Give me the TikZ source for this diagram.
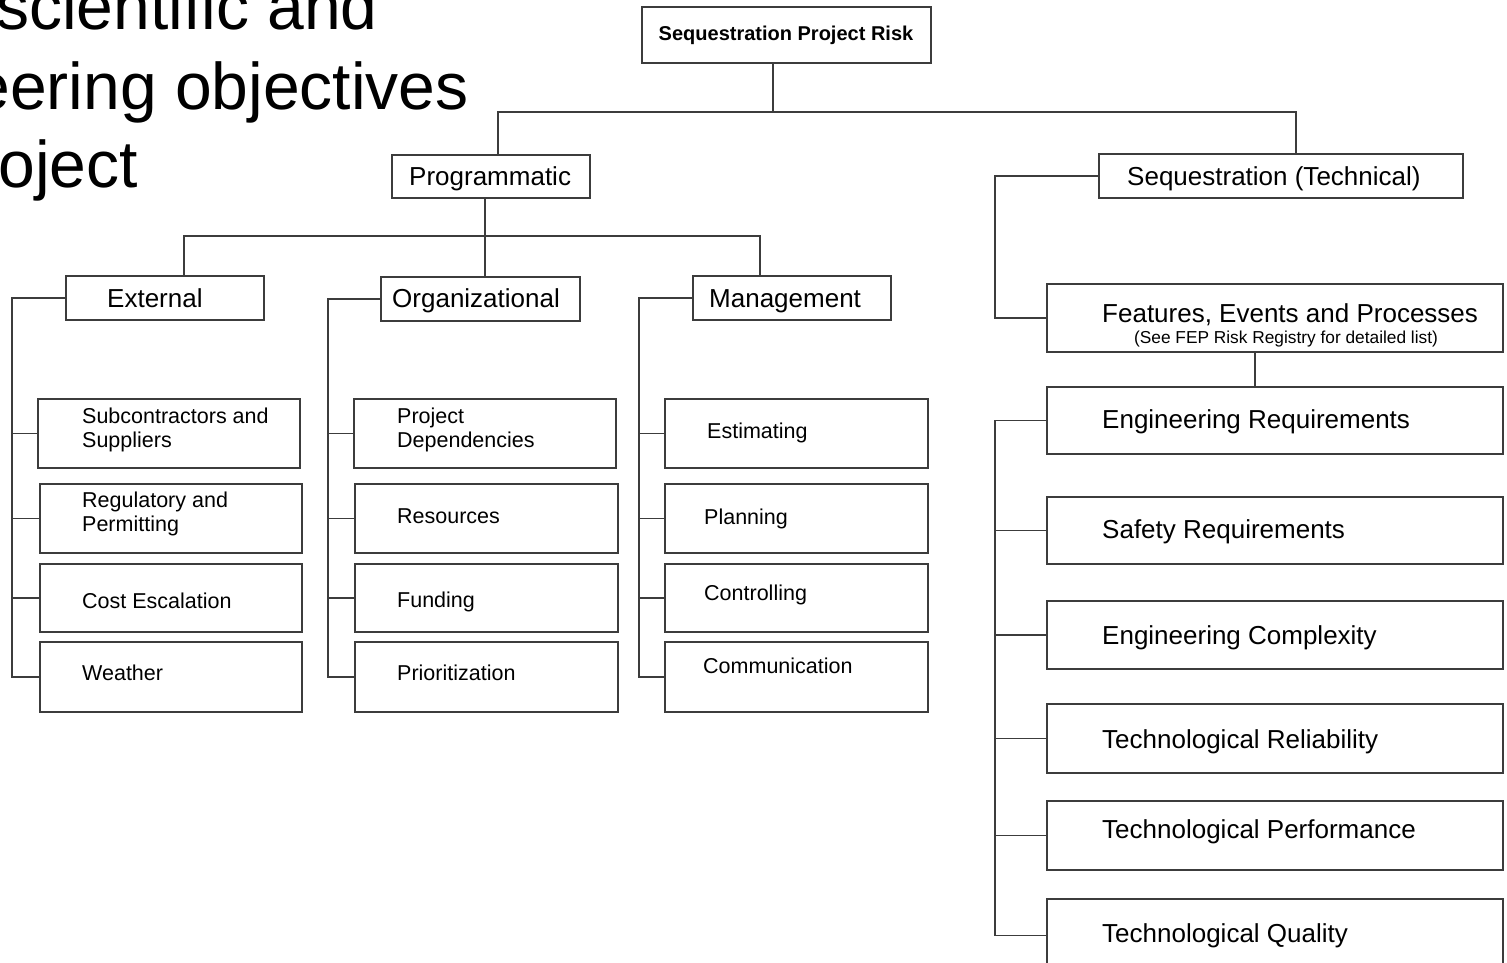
\documentclass[tikz,border=0pt]{standalone}
\usepackage{fontspec}
\setmainfont{Liberation Sans}
\definecolor{linegray}{HTML}{3C3C3C}
% box from corner (x1,y1) to corner (x2,y2), in pixel-like units
\newcommand{\rbox}[5]{\node[riskbox, minimum width={(#4-#2)*1pt}, minimum height={(#5-#3)*1pt}] (#1) at ({(#2+#4)/2},{(#3+#5)/2}) {};}
\begin{document}
\begin{tikzpicture}[x=1pt,y=-1pt,
  riskbox/.style={draw=linegray, line width=1.8pt, fill=white, inner sep=0pt},
  conn/.style={draw=linegray, line width=1.8pt},
  titletext/.style={font=\fontsize{66}{78}\selectfont, inner sep=0pt, anchor=base east},
  big/.style={font=\fontsize{26}{30}\selectfont, inner sep=0pt, anchor=west, text height=18.6pt, text depth=0pt},
  small/.style={font=\fontsize{21.5}{24}\selectfont, inner sep=0pt, anchor=west, text height=15.4pt, text depth=0pt},
  twoline/.style={font=\fontsize{21.5}{24}\selectfont, inner sep=0pt, anchor=west, align=left},
  note/.style={font=\fontsize{17.3}{20}\selectfont, inner sep=0pt, text height=12.4pt, text depth=0pt}]
\useasboundingbox (0,0) rectangle (1507,963);
\clip (0,0) rectangle (1507,963);
\fill[white] (0,0) rectangle (1507,963);

% slide title fragment
\node[titletext] (t1) at (378,30) {scientific and};
\node[titletext] (t2) at (469,110) {eering objectives};
\node[titletext] (t3) at (138,187) {oject};

% boxes
\rbox{root}{642}{7}{931}{63}
\rbox{prog}{392}{155}{590}{198}
\rbox{seq}{1099}{154}{1463}{198}
\rbox{ext}{66}{276}{264}{320}
\rbox{org}{381}{277}{580}{321}
\rbox{mgmt}{693}{276}{891}{320}
\rbox{sub}{38}{399}{300}{468}
\rbox{reg}{40}{484}{302}{553}
\rbox{cost}{40}{564}{302}{632}
\rbox{weather}{40}{642}{302}{712}
\rbox{dep}{354}{399}{616}{468}
\rbox{res}{355}{484}{618}{553}
\rbox{fund}{355}{564}{618}{632}
\rbox{prio}{355}{642}{618}{712}
\rbox{est}{665}{399}{928}{468}
\rbox{plan}{665}{484}{928}{553}
\rbox{ctrl}{665}{564}{928}{632}
\rbox{comm}{665}{642}{928}{712}
\rbox{fep}{1047}{284}{1503}{352}
\rbox{engreq}{1047}{387}{1503}{454}
\rbox{safety}{1047}{497}{1503}{564}
\rbox{engcx}{1047}{601}{1503}{669}
\rbox{rel}{1047}{704}{1503}{773}
\rbox{perf}{1047}{801}{1503}{870}
\rbox{qual}{1047}{899}{1503}{972}

% labels
\node[font=\bfseries\fontsize{20}{24}\selectfont, inner sep=0pt, text height=14.3pt, text depth=0pt] (root-t) at (786,33) {Sequestration Project Risk};
\node[big] (prog-t) at (409,176) {Programmatic};
\node[big] (seq-t) at (1127,176) {Sequestration (Technical)};
\node[big] (ext-t) at (107,298) {External};
\node[big] (org-t) at (392,298) {Organizational};
\node[big] (mgmt-t) at (709,298) {Management};
\node[twoline] (sub-t) at (82,430) {Subcontractors and\\Suppliers};
\node[twoline] (reg-t) at (82,514) {Regulatory and\\Permitting};
\node[small] (cost-t) at (82,601) {Cost Escalation};
\node[small] (weather-t) at (82,673) {Weather};
\node[twoline] (dep-t) at (397,430) {Project\\Dependencies};
\node[small] (res-t) at (397,516) {Resources};
\node[small] (fund-t) at (397,600) {Funding};
\node[small] (prio-t) at (397,673) {Prioritization};
\node[small] (est-t) at (707,431) {Estimating};
\node[small] (plan-t) at (704,517) {Planning};
\node[small] (ctrl-t) at (704,593) {Controlling};
\node[small] (comm-t) at (703,666) {Communication};
\node[big] (fep-t) at (1102,313) {Features, Events and Processes};
\node[note] (fep-s) at (1286,337) {(See FEP Risk Registry for detailed list)};
\node[big] (engreq-t) at (1102,419) {Engineering Requirements};
\node[big] (safety-t) at (1102,529) {Safety Requirements};
\node[big] (engcx-t) at (1102,635) {Engineering Complexity};
\node[big] (rel-t) at (1102,739) {Technological Reliability};
\node[big] (perf-t) at (1102,829) {Technological Performance};
\node[big] (qual-t) at (1102,933) {Technological Quality};

% junction points and spines
\coordinate (busA) at (773,112);
\coordinate (busB) at (485,236);
\coordinate (espine) at (12,0);
\coordinate (ospine) at (328,0);
\coordinate (mspine) at (639,0);
\coordinate (sspine) at (995,0);

% top levels
\draw[conn] (root.south -| busA) -- (busA);
\draw[conn] (busA) -| ([xshift=7pt]prog.north);
\draw[conn] (busA) -| ([xshift=15pt]seq.north);
\draw[conn] ([xshift=-6pt]prog.south) -- (busB);
\draw[conn] (busB) -| ([xshift=19pt]ext.north);
\draw[conn] (busB) -- ([xshift=4.5pt]org.north);
\draw[conn] (busB) -| ([xshift=-32pt]mgmt.north);

% external
\draw[conn] (ext.west) -| (espine |- weather.west) -- (weather.west);
\draw[conn] (sub.west) -- (sub.west -| espine);
\draw[conn] (reg.west) -- (reg.west -| espine);
\draw[conn] (cost.west) -- (cost.west -| espine);

% organizational
\draw[conn] (org.west) -| (ospine |- prio.west) -- (prio.west);
\draw[conn] (dep.west) -- (dep.west -| ospine);
\draw[conn] (res.west) -- (res.west -| ospine);
\draw[conn] (fund.west) -- (fund.west -| ospine);

% management
\draw[conn] (mgmt.west) -| (mspine |- comm.west) -- (comm.west);
\draw[conn] (est.west) -- (est.west -| mspine);
\draw[conn] (plan.west) -- (plan.west -| mspine);
\draw[conn] (ctrl.west) -- (ctrl.west -| mspine);

% technical
\draw[conn] (seq.west) -| (sspine |- fep.west) -- (fep.west);
\draw[conn] ([xshift=-20pt]fep.south) -- ([xshift=-20pt]engreq.north);
\draw[conn] (engreq.west) -| (sspine |- qual.west) -- (qual.west);
\draw[conn] (safety.west) -- (safety.west -| sspine);
\draw[conn] (engcx.west) -- (engcx.west -| sspine);
\draw[conn] (rel.west) -- (rel.west -| sspine);
\draw[conn] (perf.west) -- (perf.west -| sspine);
\end{tikzpicture}
\end{document}
